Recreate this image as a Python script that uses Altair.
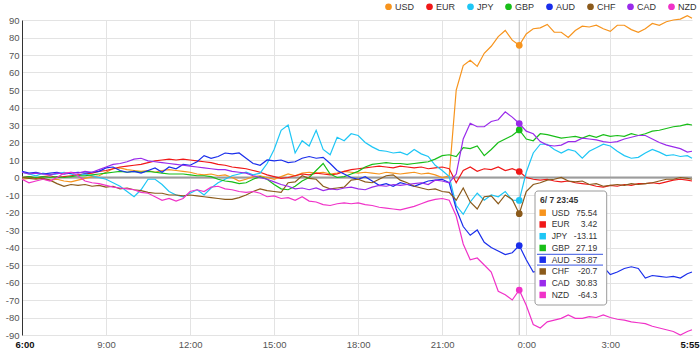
import altair as alt
import pandas as pd

currencies = ["USD", "EUR", "JPY", "GBP", "AUD", "CHF", "CAD", "NZD"]
colors = ["#F7941D", "#F01818", "#1EC6F5", "#18BE18", "#1A2EEB", "#8B5A1B", "#9A2BEB", "#F032C8"]

tick_minutes = [0, 180, 360, 540, 720, 900, 1080, 1260, 1435]
tick_labels = ["6:00", "9:00", "12:00", "15:00", "18:00", "21:00", "0:00", "3:00", "5:55"]
y_ticks = list(range(-90, 91, 10))

# minutes after 6:00 (every 15 minutes, last point 5:55)
minutes = list(range(0, 1440, 15)) + [1435]

cursor_index = 71          # 23:45
cursor_label = "6/ 7 23:45"
highlight = "AUD"

usd = [-1, -0.5, 0, -1, -1.5, -1, -2, -2.5, -1.5, -0.5,
       0.5, 1, 3, 5, 5.5, 4.5, 4, 3.5, 4, 3,
       4, 4.5, 4, 3.5, 3, 2, 1.5, 2, 1, 1.5,
       0, -2, -1, 0.5, 1, 0, -1, 0.5, 2, 1,
       2.5, 3, 2.5, 3, 2, 2.5, 3.5, 3, 2.5, 3,
       2.5, 2, 3, 2.5, 2, 2.5, 3, 2, 2.5, 1.5,
       0, 1, 50, 64, 67, 63.5, 71, 75, 80.5, 84,
       78.5, 75.54, 82, 85, 85.5, 87.5, 83, 83, 80, 84,
       86.5, 86, 87, 85, 83.5, 87, 87, 84.5, 83, 85,
       88, 87, 89, 90, 90.5, 92.5,
       91]
eur = [0, 0.5, -0.5, 0.5, 1, 0, 0.5, 1, 1.5, 2,
       2.5, 3.5, 4, 5, 6, 6.5, 7, 7.5, 8.5, 9.5,
       10, 10.5, 10, 10.5, 10, 9.5, 9, 8.5, 7.5, 7,
       6, 5.5, 5, 4, 3, 1.5, 0.5, -0.5, 0, 1,
       2, 1.5, 2.5, 2, 1.5, 2, 3.5, 4.5, 5, 5.5,
       6, 6.5, 6, 5.5, 6.5, 6, 5.5, 6, 5, 5.5,
       6, 5, -3, 4, 6, 3.5, 5, 4.5, 6, 4,
       5, 3.42, 0, -1, -1.5, -1, -2, -2.5, -2, -3,
       -3.5, -4, -5, -5.5, -4.5, -5, -4, -4.5, -3.5, -3.5,
       -3, -3.5, -2.5, -1.5, -1, -1.5,
       -2]
jpy = [3, 2, 1, 2.5, 1.5, 2, 3, 2, 1, 2,
       1, 0, -1, -3, -5, -8, -11, -7, -1, -1,
       -4, -8, -10, -11, -9, -7, -10, -6, -3, -1,
       1, 2, 3, 1.5, 2.5, 8, 16, 27, 30, 14,
       21, 18, 27, 16, 13, 23, 21, 25, 24, 20,
       17.5, 15.5, 15, 14, 14.5, 13, 16, 13.5, 12, 7,
       4, 0.5, -16, -21, -14, -9, -13, -10, -11, -8,
       -13, -13.11, 3, 14, 19, 19, 16, 14, 16, 15,
       11, 15, 17, 19, 18, 15, 12.5, 11, 11.5, 14,
       16, 14.5, 12.5, 13, 12, 12.5,
       11]
gbp = [0, 0.5, 0, 0.5, 0, 0.5, 0, 0.5, 1, 1,
       1.5, 2, 2.5, 3, 3.5, 3, 3.5, 3, 3.5, 3,
       2.5, 2, 2, 2, 1.5, 1, 1, 0.5, -1, -2,
       -2.5, -3.5, -3, -1, 0.5, -1, -4, -6.5, -7, -5,
       -2, 0, 4, 8, 2, 0, 0.5, 2, 3.5, 6,
       7.5, 8, 8.5, 8, 8, 7.5, 8, 8.5, 9, 10.5,
       12.5, 13, 12, 17, 16.5, 18, 12.5, 16, 20, 22,
       24, 27.19, 22, 21, 25, 24.5, 23.5, 22.5, 23, 23.5,
       22.5, 24, 23, 24.5, 23.5, 24, 23.5, 25, 24, 25,
       26.5, 27, 28, 29, 29.5, 30.5,
       30]
aud = [3.5, 2.5, 3, 2, 2.5, 3, 2, 2.5, 3, 2.5,
       3, 3.5, 5.5, 6, 4, 3, 3.5, 2.5, 4, 5.5,
       3, 6, 5, 7.5, 7, 9, 12.5, 11, 12, 14,
       13.5, 14, 11, 8, 7, 10, 9.5, 10, 8.5, 9,
       11, 12, 11, 11.5, 8, 4, 2, 0, -1, 0.5,
       -2, -4.5, -3.5, -5, -3, -4, -5, -3.5, -2, -1.5,
       -1, -3, -18, -28, -33, -30, -37, -40, -42, -44,
       -43, -38.87, -47, -54, -53, -53, -50, -51, -48.5, -50,
       -50, -51, -52, -51, -55.5, -54, -52, -51, -52, -57.5,
       -56, -56.5, -57, -56.5, -57.5, -55,
       -54]
chf = [0, -0.5, -1, -0.5, -1.5, -3.5, -5, -4, -4.5, -4,
       -5, -4.5, -5.5, -5, -6.5, -6, -7, -7.5, -8.5, -9,
       -9, -10, -10, -10.5, -10, -10.5, -11, -11.5, -12, -12.5,
       -12.5, -11.5, -10, -8, -6.5, -7.5, -8, -8.5, -3, -2.5,
       1, -0.5, -1, -5, -6.5, -6, -5.5, -1.5, -1, -2.5,
       -3, -1, 1, 1.5, -1.5, -3, -5, -6, -7, -6.5,
       -8, -8.5, -13, -6, -14, -18, -11, -10.5, -15, -10,
       -12.5, -20.7, -8, -4, -3, -1.5, -1, 0, -2, -2.5,
       -2, -4, -3.5, -5, -4.5, -4, -4.5, -3.5, -4, -3.5,
       -3, -2, -1, -1, 0, -0.5,
       -1]
cad = [3, 2, 2.5, 2, 1.5, 2.5, 2, 3, 2.5, 3.5,
       3, 4.5, 6, 7.5, 8, 9, 10.5, 11, 9.5, 9,
       8.5, 8, 7.5, 7, 6.5, 6, 5.5, 5, 4.5, 4.5,
       3.5, 3, 2.5, 1, 0, -1, -2.5, -4, -5, -6.5,
       -6, -7, -6, -7.5, -6.5, -7, -6, -5.5, -6.5, -7,
       -5.5, -4.5, -5, -4, -4.5, -4, -3.5, -3, -4, -1.5,
       -2, -3, 2, 22, 31, 29, 29, 32, 33, 37.5,
       34.5, 30.83, 26.5, 25, 20.5, 18.5, 18, 18.5, 20.5, 20.5,
       22.5, 22, 21.5, 20.5, 20, 20.5, 22, 23, 24, 24,
       22, 20, 18.5, 17.5, 16.5, 14.5,
       15]
nzd = [-1, -3, -2, -1, -2, 0, 2.5, 3, 1, -2,
       -3, -3.5, -4.5, -5.5, -6, -6.5, -7, -8.5, -9, -11,
       -13, -12, -13.5, -12, -8, -7, -8, -5.5, -5, -6.5,
       -7, -8, -8.5, -8, -9, -11, -10.5, -12, -11.5, -13,
       -11, -13.5, -14, -15.5, -16, -15, -14.5, -15, -14.5, -15.5,
       -16, -17, -17.5, -18, -18.5, -17.5, -16.5, -15, -13.5, -12.5,
       -12, -13, -22, -38, -47, -46, -50, -54, -65, -67,
       -70, -64.3, -73, -84, -86, -82.5, -81.5, -80.5, -78.5, -80.5,
       -80.5, -79.5, -80, -78.5, -80, -81, -81.5, -82.5, -83, -83.5,
       -85, -86, -87, -88, -90, -88,
       -87]

series = dict(zip(currencies, [usd, eur, jpy, gbp, aud, chf, cad, nzd]))
for k, s in series.items():
    assert len(s) == len(minutes), (k, len(s))

rows = []
for cur, vals in series.items():
    for m, v in zip(minutes, vals):
        rows.append({"cur": cur, "m": m, "v": v})
df = pd.DataFrame(rows)

cursor_m = minutes[cursor_index]
marker_df = pd.DataFrame({"cur": currencies, "m": [cursor_m] * len(currencies),
                          "v": [series[c][cursor_index] for c in currencies]})
tip_df = pd.DataFrame({"cur": currencies,
                       "val": [str(series[c][cursor_index]) for c in currencies],
                       "row": list(range(len(currencies)))})
hl_row = currencies.index(highlight)
hl_df = pd.DataFrame({"row": [hl_row, hl_row], "side": [-1, 1]})

FONT = "Liberation Sans"
color_scale = alt.Scale(domain=currencies, range=colors)

label_expr = " : ".join(f"datum.value == {m} ? '{l}'" for m, l in zip(tick_minutes, tick_labels)) + " : ''"
edge_test = f"datum.value == {tick_minutes[0]} || datum.value == {tick_minutes[-1]}"

x_enc = alt.X("m:Q", scale=alt.Scale(domain=[tick_minutes[0], tick_minutes[-1]], nice=False, zero=False),
              axis=alt.Axis(values=tick_minutes, labelExpr=label_expr, title=None, domain=False,
                            ticks=False, grid=True, gridColor="#e3e3e3",
                            gridOpacity={"condition": {"test": edge_test, "value": 0}, "value": 1},
                            labelFontSize=9.5, labelFont=FONT,
                            labelFontWeight={"condition": {"test": edge_test, "value": "bold"}, "value": "normal"},
                            labelColor={"condition": {"test": edge_test, "value": "#111"}, "value": "#555"},
                            labelPadding=4, labelFlush=True, labelFlushOffset=7, labelOverlap=False))
y_enc = alt.Y("v:Q", scale=alt.Scale(domain=[-90, 90], nice=False, zero=False),
              axis=alt.Axis(values=y_ticks, title=None, grid=True, gridColor="#e3e3e3",
                            domain=True, domainColor="#333", domainWidth=1, ticks=False,
                            labelFontSize=9.5, labelFont=FONT, labelColor="#555", labelPadding=3,
                            labelOverlap=False, labelExpr="datum.value + ''"))

zero = alt.Chart(pd.DataFrame({"v": [0]})).mark_rule(color="#9c9c9c", strokeWidth=2).encode(y=y_enc)
cross = alt.Chart(pd.DataFrame({"m": [cursor_m]})).mark_rule(color="#bdbdbd", strokeWidth=1).encode(x=x_enc)

lines = alt.Chart(df).mark_line(strokeWidth=1.2).encode(
    x=x_enc, y=y_enc,
    color=alt.Color("cur:N", scale=color_scale, sort=currencies, legend=None))

markers = alt.Chart(marker_df).mark_circle(size=45, opacity=1).encode(
    x=x_enc, y=y_enc,
    color=alt.Color("cur:N", scale=color_scale, sort=currencies,
                    legend=alt.Legend(orient="none", legendX=362, legendY=-18, direction="horizontal",
                                      title=None, symbolType="circle", symbolSize=45,
                                      labelFontSize=9, labelFont=FONT, labelColor="#333",
                                      labelOffset=2, columnPadding=10, padding=0,
                                      symbolStrokeWidth=0)))

box = alt.Chart(pd.DataFrame({"a": [0]})).mark_rect(
    fill="white", stroke="#9a9a9a", strokeWidth=1, cornerRadius=3).encode(
    x=alt.value(513), x2=alt.value(584.7), y=alt.value(171), y2=alt.value(285))

header = alt.Chart(pd.DataFrame({"t": [cursor_label]})).mark_text(
    align="left", baseline="middle", fontSize=8.5, fontWeight="bold", color="#333", font=FONT).encode(
    x=alt.value(518), y=alt.value(179.5), text="t:N")

tip_base = alt.Chart(tip_df).transform_calculate(py="192.7 + 11.75 * datum.row")
py = alt.Y("py:Q", scale=None, axis=None)
squares = tip_base.mark_square(size=42, opacity=1).encode(
    x=alt.value(520.7), y=py,
    color=alt.Color("cur:N", scale=color_scale, sort=currencies, legend=None))
tip_labels = tip_base.mark_text(align="left", baseline="middle", fontSize=8.5, color="#333", font=FONT).encode(
    x=alt.value(529.7), y=py, text="cur:N")
tip_values = tip_base.mark_text(align="right", baseline="middle", fontSize=8.5, color="#333", font=FONT).encode(
    x=alt.value(575.3), y=py, text="val:N")
hl = alt.Chart(hl_df).transform_calculate(py="192.7 + 11.75 * datum.row + 5.4 * datum.side").mark_rule(
    color="#3a56e0", strokeWidth=1).encode(x=alt.value(515), x2=alt.value(581), y=py)

chart = alt.layer(zero, cross, lines, markers, box, header, squares, tip_labels, tip_values, hl).resolve_legend(
    color="independent").properties(
    width=670, height=315, padding={"left": 22, "top": 20, "right": 8, "bottom": 21},
    autosize=alt.AutoSizeParams(type="none")).configure(font=FONT).configure_view(stroke=None)

chart.save("out.html", embed_options={"renderer": "svg", "actions": False})
